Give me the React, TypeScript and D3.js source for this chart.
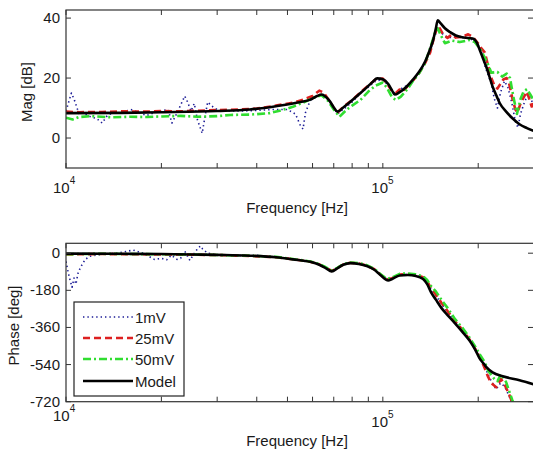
import React from "react";
import * as d3 from "d3";

const W = 533;
const H = 451;
const FONT = "'Liberation Sans', Arial, Helvetica, sans-serif";

// ---------- data ----------
const seriesNames = ["1mV", "25mV", "50mV", "Model"];
const magTicks = [0, 20, 40];
const phaseTicks = [0, -180, -360, -540, -720];
const freqTicks = [1e4, 2e4, 3e4, 4e4, 5e4, 6e4, 7e4, 8e4, 9e4, 1e5, 2e5, 3e5];
const freqLabels = [
  { f: 1e4, base: "10", exp: "4" },
  { f: 1e5, base: "10", exp: "5" },
];

// Magnitude [dB]
const magModel: [number, number][] = [
  [1e4, 8.3], [1.5e4, 8.4], [2e4, 8.6], [3e4, 9.0], [3.8e4, 9.5], [4.6e4, 10.6], [5.5e4, 12.0],
  [5.9e4, 12.8], [6.2e4, 14.0], [6.4e4, 14.5], [6.6e4, 13.8], [6.8e4, 12.3], [7.0e4, 10.2],
  [7.2e4, 8.8], [7.5e4, 10.2], [7.9e4, 12.1], [8.5e4, 15.0], [8.9e4, 16.9], [9.3e4, 18.8],
  [9.6e4, 19.9], [1.0e5, 19.6], [1.04e5, 18.0], [1.07e5, 15.8], [1.09e5, 14.5], [1.13e5, 15.3],
  [1.19e5, 17.2], [1.24e5, 19.3], [1.3e5, 22.0], [1.36e5, 25.5], [1.4e5, 28.8], [1.44e5, 32.5],
  [1.47e5, 36.5], [1.49e5, 39.3], [1.52e5, 38.3], [1.57e5, 36.6], [1.63e5, 35.3], [1.7e5, 34.2],
  [1.8e5, 33.5], [1.92e5, 33.2], [1.98e5, 31.8], [2.02e5, 29.5], [2.08e5, 26.0], [2.13e5, 23.2],
  [2.22e5, 17.2], [2.29e5, 13.8], [2.34e5, 11.6], [2.45e5, 8.8], [2.57e5, 6.5], [2.7e5, 4.6],
  [2.85e5, 3.3], [3.0e5, 2.3],
];

const mag25mV: [number, number][] = [
  [1e4, 8.8], [1.1e4, 8.6], [1.3e4, 8.7], [1.5e4, 8.9], [1.8e4, 8.8], [2.0e4, 9.0], [2.3e4, 8.9],
  [2.6e4, 9.1], [3.0e4, 9.3], [3.5e4, 9.5], [4.0e4, 9.8], [4.6e4, 10.8], [5.2e4, 11.8],
  [5.6e4, 12.8], [6.0e4, 14.0], [6.3e4, 15.8], [6.5e4, 15.2], [6.7e4, 13.2], [7.0e4, 10.0],
  [7.2e4, 8.5], [7.5e4, 10.4], [8.0e4, 12.6], [8.5e4, 15.2], [9.0e4, 17.5], [9.5e4, 19.6],
  [1.0e5, 19.8], [1.04e5, 17.6], [1.07e5, 15.5], [1.1e5, 15.0], [1.13e5, 16.2], [1.16e5, 15.6],
  [1.2e5, 17.5], [1.25e5, 19.4], [1.3e5, 21.6], [1.36e5, 25.0], [1.41e5, 28.5], [1.45e5, 33.5],
  [1.49e5, 37.5], [1.52e5, 36.2], [1.55e5, 34.5], [1.6e5, 33.4], [1.65e5, 34.5], [1.7e5, 33.5],
  [1.78e5, 33.8], [1.86e5, 34.6], [1.92e5, 33.8], [2.0e5, 31.5], [2.05e5, 29.8], [2.1e5, 28.5],
  [2.15e5, 24.0], [2.2e5, 20.0], [2.25e5, 17.5], [2.3e5, 16.5], [2.35e5, 18.0], [2.4e5, 19.5],
  [2.46e5, 20.0], [2.5e5, 18.5], [2.56e5, 13.5], [2.62e5, 9.5], [2.66e5, 8.5], [2.72e5, 11.5],
  [2.78e5, 13.5], [2.85e5, 15.5], [2.9e5, 13.0], [2.95e5, 10.5], [3.0e5, 12.0],
];

const mag50mV: [number, number][] = [
  [1e4, 6.8], [1.05e4, 6.2], [1.1e4, 7.0], [1.2e4, 7.3], [1.4e4, 6.9], [1.6e4, 7.1], [1.8e4, 7.0],
  [2.0e4, 7.2], [2.3e4, 7.4], [2.6e4, 7.1], [3.0e4, 7.3], [3.3e4, 7.7], [3.8e4, 7.8], [4.4e4, 8.3],
  [4.8e4, 9.3], [5.2e4, 10.4], [5.6e4, 11.8], [6.0e4, 13.3], [6.4e4, 14.3], [6.7e4, 12.5],
  [7.0e4, 9.5], [7.3e4, 7.1], [7.7e4, 9.5], [8.0e4, 10.8], [8.5e4, 12.7], [9.0e4, 15.5],
  [9.5e4, 17.5], [1.0e5, 18.5], [1.03e5, 16.8], [1.07e5, 13.5], [1.1e5, 12.7], [1.14e5, 13.8],
  [1.2e5, 16.5], [1.25e5, 19.3], [1.3e5, 21.5], [1.36e5, 25.0], [1.42e5, 31.0], [1.46e5, 35.0],
  [1.49e5, 36.6], [1.52e5, 34.5], [1.57e5, 31.6], [1.65e5, 32.5], [1.75e5, 32.0], [1.88e5, 32.7],
  [1.95e5, 32.0], [2.04e5, 29.3], [2.14e5, 25.0], [2.2e5, 21.8], [2.3e5, 22.0], [2.38e5, 20.5],
  [2.46e5, 21.5], [2.52e5, 20.0], [2.58e5, 14.0], [2.65e5, 8.0], [2.72e5, 13.0], [2.78e5, 15.5],
  [2.85e5, 16.3], [2.92e5, 14.5], [3.0e5, 12.5],
];

const mag1mV: [number, number][] = [
  [1e4, 9.0], [1.02e4, 12.0], [1.04e4, 15.0], [1.06e4, 13.0], [1.08e4, 10.5], [1.1e4, 8.0],
  [1.13e4, 8.5], [1.17e4, 7.5], [1.2e4, 7.0], [1.25e4, 6.5], [1.3e4, 5.0], [1.35e4, 7.5],
  [1.4e4, 8.3], [1.5e4, 8.5], [1.6e4, 9.5], [1.7e4, 8.5], [1.8e4, 7.5], [1.9e4, 8.5], [2.0e4, 9.0],
  [2.1e4, 9.5], [2.16e4, 5.0], [2.22e4, 7.5], [2.3e4, 11.0], [2.37e4, 14.0], [2.42e4, 12.0],
  [2.48e4, 9.0], [2.54e4, 11.5], [2.6e4, 6.0], [2.69e4, 1.6], [2.74e4, 6.5], [2.8e4, 12.0],
  [2.9e4, 10.5], [3.0e4, 9.5], [3.3e4, 9.0], [3.6e4, 9.0], [4.0e4, 9.2], [4.5e4, 9.5],
  [5.0e4, 9.5], [5.3e4, 8.0], [5.5e4, 4.0], [5.6e4, 3.0], [5.7e4, 8.5], [5.9e4, 12.5],
  [6.2e4, 14.0], [6.5e4, 14.5], [6.8e4, 12.0], [7.2e4, 8.0], [7.6e4, 10.0], [8.0e4, 12.0],
  [8.5e4, 15.0], [9.0e4, 17.0], [9.5e4, 19.0], [1.0e5, 19.5], [1.04e5, 17.5], [1.08e5, 15.0],
  [1.12e5, 15.5], [1.16e5, 17.0], [1.2e5, 17.5], [1.25e5, 19.5], [1.3e5, 22.0], [1.36e5, 25.0],
  [1.42e5, 30.0], [1.46e5, 34.0], [1.49e5, 36.5], [1.52e5, 35.5], [1.57e5, 34.0], [1.63e5, 33.5],
  [1.7e5, 34.0], [1.8e5, 33.5], [1.9e5, 33.0], [2.0e5, 31.0], [2.06e5, 28.0], [2.1e5, 24.0],
  [2.15e5, 21.0], [2.2e5, 18.0], [2.25e5, 13.0], [2.3e5, 10.0], [2.35e5, 15.0], [2.42e5, 19.0],
  [2.48e5, 17.0], [2.55e5, 12.0], [2.62e5, 5.5], [2.67e5, 3.5], [2.72e5, 8.0], [2.8e5, 12.0],
  [2.87e5, 14.5], [2.93e5, 13.0], [3.0e5, 11.0],
];

// Phase [deg]
const phaseModel: [number, number][] = [
  [1e4, -2], [1.5e4, -3], [2e4, -4], [2.5e4, -6], [3e4, -8], [3.8e4, -12], [4.6e4, -20],
  [5.2e4, -30], [5.9e4, -42], [6.3e4, -56], [6.6e4, -72], [6.9e4, -88], [7.2e4, -72],
  [7.5e4, -56], [7.9e4, -48], [8.4e4, -52], [8.9e4, -62], [9.4e4, -80], [9.8e4, -104],
  [1.04e5, -132], [1.07e5, -125], [1.13e5, -108], [1.2e5, -106], [1.27e5, -110], [1.34e5, -125],
  [1.38e5, -150], [1.42e5, -190], [1.47e5, -225], [1.53e5, -265], [1.6e5, -300], [1.69e5, -340],
  [1.78e5, -380], [1.88e5, -425], [1.96e5, -470], [2.02e5, -510], [2.08e5, -535], [2.13e5, -555],
  [2.22e5, -578], [2.39e5, -597], [2.7e5, -616], [3e5, -636],
];

const phase25mV: [number, number][] = [
  [1e4, -6], [1.1e4, -5], [1.3e4, -4], [1.6e4, -5], [2e4, -6], [2.5e4, -7], [3e4, -9],
  [3.8e4, -13], [4.6e4, -20], [5.2e4, -29], [5.9e4, -41], [6.3e4, -54], [6.6e4, -70],
  [6.9e4, -86], [7.2e4, -71], [7.5e4, -55], [7.9e4, -46], [8.4e4, -50], [8.9e4, -60],
  [9.4e4, -78], [9.8e4, -102], [1.03e5, -128], [1.07e5, -121], [1.13e5, -104], [1.2e5, -101],
  [1.27e5, -105], [1.34e5, -116], [1.38e5, -136], [1.42e5, -170], [1.47e5, -200], [1.53e5, -240],
  [1.6e5, -280], [1.69e5, -330], [1.78e5, -370], [1.88e5, -420], [1.96e5, -465], [2.04e5, -515],
  [2.1e5, -560], [2.15e5, -600], [2.2e5, -630], [2.28e5, -650], [2.36e5, -610], [2.42e5, -635],
  [2.48e5, -670], [2.55e5, -715], [2.6e5, -750],
];

const phase50mV: [number, number][] = [
  [1e4, -5], [1.1e4, -4], [1.3e4, -3], [1.6e4, -4], [2e4, -5], [2.5e4, -6], [3e4, -9],
  [3.8e4, -12], [4.6e4, -18], [5.2e4, -28], [5.9e4, -40], [6.3e4, -52], [6.6e4, -68],
  [6.9e4, -84], [7.2e4, -70], [7.5e4, -54], [7.9e4, -45], [8.4e4, -48], [8.9e4, -58],
  [9.4e4, -76], [9.8e4, -100], [1.03e5, -125], [1.07e5, -118], [1.13e5, -100], [1.2e5, -98],
  [1.27e5, -102], [1.34e5, -112], [1.38e5, -130], [1.42e5, -160], [1.47e5, -185], [1.53e5, -225],
  [1.6e5, -265], [1.69e5, -320], [1.78e5, -360], [1.88e5, -410], [1.96e5, -455], [2.04e5, -500],
  [2.1e5, -530], [2.15e5, -570], [2.25e5, -610], [2.3e5, -620], [2.36e5, -587], [2.45e5, -625],
  [2.5e5, -665], [2.56e5, -710], [2.62e5, -750],
];

const phase1mV: [number, number][] = [
  [1e4, -40], [1.015e4, -90], [1.03e4, -130], [1.045e4, -165], [1.06e4, -120], [1.075e4, -150],
  [1.09e4, -100], [1.11e4, -70], [1.15e4, -30], [1.19e4, -15], [1.3e4, -5], [1.45e4, 0],
  [1.63e4, 15], [1.75e4, 0], [1.9e4, -30], [2.0e4, -25], [2.08e4, -32], [2.15e4, -10],
  [2.24e4, -30], [2.3e4, -25], [2.37e4, 10], [2.46e4, -35], [2.53e4, -5], [2.61e4, 25],
  [2.66e4, 35], [2.7e4, 20], [2.8e4, 0], [3.0e4, -8], [3.5e4, -12], [4.0e4, -10], [4.6e4, -20],
  [5.2e4, -28], [5.9e4, -42], [6.3e4, -55], [6.6e4, -70], [6.9e4, -86], [7.2e4, -72],
  [7.5e4, -56], [7.9e4, -47], [8.4e4, -50], [8.9e4, -60], [9.4e4, -78], [9.8e4, -102],
  [1.04e5, -130], [1.07e5, -122], [1.13e5, -105], [1.2e5, -102], [1.27e5, -106], [1.34e5, -118],
  [1.38e5, -140], [1.42e5, -175], [1.47e5, -205], [1.53e5, -245], [1.6e5, -285], [1.69e5, -335],
  [1.78e5, -375], [1.88e5, -420], [1.96e5, -465], [2.04e5, -510], [2.1e5, -550], [2.15e5, -590],
  [2.2e5, -620], [2.28e5, -660], [2.35e5, -630], [2.42e5, -645], [2.5e5, -690], [2.56e5, -730],
];

// ---------- styles ----------
const styles = [
  { color: "#1c1c96", width: 1.6, dash: "1.4 3" },
  { color: "#dd2020", width: 2.6, dash: "7 4" },
  { color: "#30dd30", width: 2.6, dash: "8 3 2 3" },
  { color: "#000000", width: 2.6, dash: "" },
];

const X0 = 66;
const X1 = 534;
const xScale = d3.scaleLog().domain([1e4, 3e5]).range([X0, X1]);

type PanelProps = {
  id: string;
  top: number;
  bottom: number;
  domain: [number, number];
  yTicks: number[];
  series: [number, number][][];
  ylabel: string;
  ylabelX: number;
  expBaselines: number[];
  xlabelBaseline: number;
  children?: React.ReactNode;
};

function Panel(p: PanelProps) {
  const y = d3.scaleLinear().domain(p.domain).range([p.bottom, p.top]);
  const line = d3
    .line<[number, number]>()
    .x((d) => xScale(d[0]))
    .y((d) => y(d[1]));
  const modelLine = d3
    .line<[number, number]>()
    .x((d) => xScale(d[0]))
    .y((d) => y(d[1]))
    .curve(d3.curveMonotoneX);
  const tl = 5;
  const frame = "#333";
  return (
    <g>
      <defs>
        <clipPath id={p.id}>
          <rect x={X0} y={p.top} width={X1 - X0} height={p.bottom - p.top} />
        </clipPath>
      </defs>
      <rect x={X0} y={p.top} width={X1 - X0} height={p.bottom - p.top} fill="#fff" />
      <g clipPath={`url(#${p.id})`}>
        {p.series.map((s, i) => (
          <path
            key={i}
            d={(i === 3 ? modelLine : line)(s) || ""}
            fill="none"
            stroke={styles[i].color}
            strokeWidth={styles[i].width}
            strokeDasharray={styles[i].dash || undefined}
            strokeLinejoin="round"
          />
        ))}
      </g>
      {freqTicks.map((f) => (
        <g key={f} stroke={frame} strokeWidth={1}>
          <line x1={xScale(f)} x2={xScale(f)} y1={p.bottom} y2={p.bottom - tl} />
          <line x1={xScale(f)} x2={xScale(f)} y1={p.top} y2={p.top + tl} />
        </g>
      ))}
      {p.yTicks.map((t) => (
        <g key={t}>
          <line x1={X0} x2={X0 + tl} y1={y(t)} y2={y(t)} stroke={frame} />
          <line x1={X1 - 1} x2={X1 - 1 - tl} y1={y(t)} y2={y(t)} stroke={frame} />
          <text
            x={60}
            y={y(t) - 0.5}
            textAnchor="end"
            dominantBaseline="central"
            fontSize={15}
            fill="#1a1a1a"
          >
            {t}
          </text>
        </g>
      ))}
      <rect
        x={X0}
        y={p.top}
        width={X1 - X0}
        height={p.bottom - p.top}
        fill="none"
        stroke={frame}
        strokeWidth={1.2}
      />
      {freqLabels.map((l, i) => (
        <text
          key={l.f}
          x={xScale(l.f) - (i === 0 ? 13 : 11.5)}
          y={p.expBaselines[i]}
          fontSize={15}
          fill="#1a1a1a"
        >
          {l.base}
          <tspan dy={-9} fontSize={10}>
            {l.exp}
          </tspan>
        </text>
      ))}
      <text
        x={297}
        y={p.xlabelBaseline}
        textAnchor="middle"
        fontSize={15}
        fill="#1a1a1a"
      >
        Frequency [Hz]
      </text>
      <text
        transform={`translate(${p.ylabelX},${(p.top + p.bottom) / 2 + 3}) rotate(-90)`}
        textAnchor="middle"
        fontSize={15}
        fill="#1a1a1a"
      >
        {p.ylabel}
      </text>
      {p.children}
    </g>
  );
}

function Legend() {
  const x = 74;
  const y = 302;
  const rows = [317, 338, 359, 381];
  return (
    <g>
      <rect x={x} y={y} width={110} height={94} fill="#fff" stroke="#222" strokeWidth={1.2} />
      {seriesNames.map((n, i) => (
        <g key={n}>
          <line
            x1={83}
            x2={133}
            y1={rows[i]}
            y2={rows[i]}
            stroke={styles[i].color}
            strokeWidth={styles[i].width}
            strokeDasharray={styles[i].dash || undefined}
          />
          <text x={135} y={rows[i]} dominantBaseline="central" fontSize={15} fill="#1a1a1a">
            {n}
          </text>
        </g>
      ))}
    </g>
  );
}

export default function App() {
  return (
    <svg
      width={W}
      height={H}
      viewBox={`0 0 ${W} ${H}`}
      style={{ position: "absolute", left: 0, top: 0, background: "#fff", fontFamily: FONT }}
    >
      <rect width={W} height={H} fill="#fff" />
      <Panel
        id="clipMag"
        top={10}
        bottom={168}
        domain={[-10, 42.7]}
        yTicks={magTicks}
        series={[mag1mV, mag25mV, mag50mV, magModel]}
        ylabel="Mag [dB]"
        ylabelX={32}
        expBaselines={[193, 193]}
        xlabelBaseline={213}
      />
      <Panel
        id="clipPhase"
        top={243.3}
        bottom={401.7}
        domain={[-720, 48]}
        yTicks={phaseTicks}
        series={[phase1mV, phase25mV, phase50mV, phaseModel]}
        ylabel="Phase [deg]"
        ylabelX={19}
        expBaselines={[421, 427]}
        xlabelBaseline={446}
      >
        <Legend />
      </Panel>
    </svg>
  );
}
